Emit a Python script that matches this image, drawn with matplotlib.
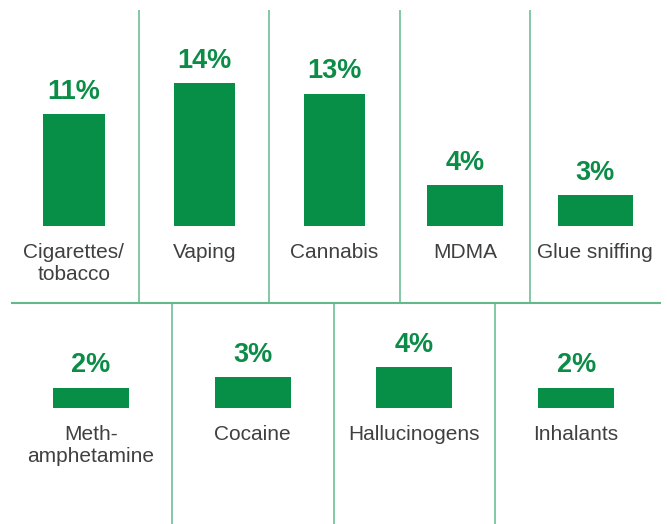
"""Share of young people who have used each substance, two-row panel bar chart."""

import matplotlib.pyplot as plt
from matplotlib.lines import Line2D

top_labels = ["Cigarettes/\ntobacco", "Vaping", "Cannabis", "MDMA", "Glue sniffing"]
top_values = [11, 14, 13, 4, 3]
bottom_labels = ["Meth-\namphetamine", "Cocaine", "Hallucinogens", "Inhalants"]
bottom_values = [2, 3, 4, 2]

BAR = "#078f48"
LABEL_GREEN = "#0b8c47"
RULE = "#62b98b"
TEXT = "#404040"
W, H = 667, 524

plt.rcParams["font.family"] = ["Liberation Sans", "DejaVu Sans"]


def px_axes(fig, left, top, right, bottom):
    return fig.add_axes([left / W, 1 - bottom / H, (right - left) / W, (bottom - top) / H])


def draw_row(ax, labels, values, widths, ylim):
    x = range(len(values))
    ax.bar(x, values, width=widths, color=BAR, zorder=2)
    for i, (lab, v) in enumerate(zip(labels, values)):
        ax.annotate(f"{v}%", (i, v), xytext=(0, 11), textcoords="offset points",
                    ha="center", va="baseline", fontsize=19.5, fontweight="bold",
                    color=LABEL_GREEN)
        ax.annotate(lab, (i, 0), xytext=(0, -12.5), textcoords="offset points",
                    ha="center", va="top", fontsize=15, color=TEXT,
                    linespacing=1.17)
    for b in range(1, len(values)):
        ax.axvline(b - 0.5, color=RULE, lw=1.1)
    ax.set_xlim(-0.5, len(values) - 0.5)
    ax.set_ylim(*ylim)
    ax.axis("off")


fig = plt.figure(figsize=(W / 100, H / 100), dpi=100)

top_ax = px_axes(fig, 8.7, 10, 660.5, 303)
draw_row(top_ax, top_labels, top_values, [0.47, 0.47, 0.47, 0.58, 0.58], (-7.56, 21.2))

bottom_ax = px_axes(fig, 10, 303, 657, 524)
draw_row(bottom_ax, bottom_labels, bottom_values, 0.47, (-11.4, 10.3))

fig.add_artist(Line2D([12 / W, 660 / W], [1 - 303 / H, 1 - 303 / H],
                      color=RULE, lw=1.5, transform=fig.transFigure))

fig.savefig("out.png", dpi=100)
